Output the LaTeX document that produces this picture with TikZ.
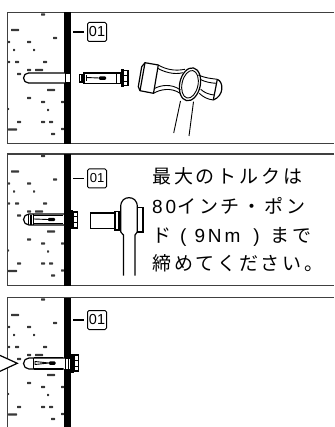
\documentclass[tikz,border=0pt]{standalone}
\usepackage{fontspec}
\setmainfont{Liberation Sans}
\newfontfamily\jpfont[LetterSpace=15]{Noto Sans CJK JP}
\newfontfamily\lafont[LetterSpace=15]{Liberation Sans}
\tikzset{
  frameline/.style={draw=black!75,line width=1.5pt},
  thinl/.style={draw=black,line width=0.9pt},
  medl/.style={draw=black,line width=1.2pt},
  tag/.style={draw=black,rounded corners=1.5pt,line width=1pt,minimum width=19pt,minimum height=19pt,inner sep=0pt,font=\fontsize{14.5}{14.5}\selectfont},
  tick/.style={draw=black,line width=1.1pt,shorten >=3pt},
  say/.style={anchor=base west,inner sep=0pt,font=\fontsize{19}{21}\selectfont},
  speck/.style={fill=black!78,draw=none,rounded corners=0.5pt}
}
\newcommand{\specks}[1]{%
  \foreach \xa/\xb/\yy in {41/45/14.5,11/19/30,53/57/38,8/10/42,27/31/42,13/15/50,33/35/50,8/10/62,15/19/62,43/47/62,17/21/74,27/31/70,35/43/70,47/55/90,27/31/98,41/45/102,61/64/102,47/49/110,8/9/109,17/21/122,41/45/122,49/53/122,8/17/129.5,51/55/134,61/64/129}
    \fill[speck] (\xa,#1+\yy-1.2) rectangle (\xb,#1+\yy+1.2);
}
\begin{document}
\begin{tikzpicture}[x=1pt,y=-1pt]
\useasboundingbox (0,0) rectangle (334,427);
\fill[white] (0,0) rectangle (334,427);
% panel frames
\draw[frameline] (334,12.5) -- (7.5,12.5) -- (7.5,143.5) -- (334,143.5);
\draw[frameline] (334,154) -- (7.5,154) -- (7.5,285.5) -- (334,285.5);
\draw[frameline] (334,297.5) -- (7.5,297.5) -- (7.5,427);
% specks
\specks{0}
\specks{141.5}
\specks{285}
% walls
\fill[black] (63.7,12.5) rectangle (71,144);
\fill[black] (63.7,154) rectangle (71,286);
\fill[black] (63.7,297.5) rectangle (71,427);
% tags
\node[tag] (tagA) at (97,32) {01};
\coordinate (tickA) at (73,32);
\draw[tick] (tickA) -- (tagA.west);
\node[tag] (tagB) at (97,178.5) {\fontsize{13}{13}\selectfont 01};
\coordinate (tickB) at (73,178.5);
\draw[tick] (tickB) -- (tagB.west);
\node[tag] (tagC) at (97,320) {01};
\coordinate (tickC) at (73,320);
\draw[tick] (tickC) -- (tagC.west);

% ---- panel 1: hole and loose anchor
\fill[white] (65,73) -- (28.5,73) arc[start angle=270,end angle=90,radius=5] -- (65,83) -- cycle;
\draw[medl] (65,73) -- (28.5,73) arc[start angle=270,end angle=90,radius=5] -- (65,83);
\draw[thinl,fill=white] (65,73.5) rectangle (70,82.5);
\draw[medl,fill=white] (79.5,74.5) rectangle (83.5,82);
\fill[black] (81,74.5) rectangle (83.5,82);
\draw[medl,fill=white] (84,73) rectangle (120.5,83.3);
\draw[thinl] (86,75) -- (86,81.5);
\draw[thinl] (86,77.5) -- (99,78);
\fill[black,rounded corners=1pt] (99,76.5) rectangle (106,79.8);
\draw[thinl] (116,73) -- (116,83.3);
\fill[black] (120.5,69.3) rectangle (123.5,87.3);
\draw[medl,fill=white] (123.5,70.5) rectangle (128,85.5);
\draw[thinl] (123.5,75) -- (128,75) (123.5,81) -- (128,81);

% hammer
\draw[medl,line join=round] (145,62.7) -- (158.3,65) -- (153.5,93.3) -- (140,90.7) -- cycle;
\draw[medl,line join=round] (145,62.7) -- (141.7,66.7) -- (138.3,86.7) -- (140,90.7);
\draw[thinl] (158.3,65) .. controls (165,69) and (174,71.5) .. (185,69.3);
\draw[thinl] (157.7,68.3) .. controls (164,72) and (174,75) .. (183,72.7);
\draw[thinl] (153.5,93.3) .. controls (160,89.5) and (171,87) .. (180,93.3);
\draw[thinl] (155,88.3) .. controls (160,85.5) and (171,83) .. (180.5,90);
\draw[medl] (190,84.3) ellipse[x radius=10.3,y radius=16.7,rotate=-12];
\draw[thinl] (190,84.3) ellipse[x radius=8,y radius=14,rotate=-12];
\draw[thinl] (198.3,75) .. controls (205,78) and (211,78.5) .. (217.3,79.3);
\draw[thinl] (200,79.3) .. controls (205,82) and (211,83) .. (216,83.3);
\draw[thinl] (199.3,93.3) .. controls (203,97) and (208,99.5) .. (213.3,100);
\draw[thinl] (200.7,89.3) .. controls (204,92.5) and (209,94.5) .. (214,95);
\draw[medl] (217.3,79.3) -- (213.3,100);
\draw[medl] (217.3,79.3) .. controls (224,82) and (224,96) .. (213.3,100);
\draw[thinl] (180.5,101) -- (173.7,133);
\draw[thinl] (193.5,101.7) -- (189,136);

% ---- panel 2: anchor in hole
\fill[white] (65,214) -- (29,214) arc[start angle=270,end angle=90,radius=5.5] -- (65,225) -- cycle;
\draw[medl] (65,214) -- (29,214) arc[start angle=270,end angle=90,radius=5.5] -- (65,225);
\draw[thinl] (28,214) -- (28,225);
\fill[black] (30,214.5) rectangle (31.5,224.5);
\draw[thinl] (33.5,214) -- (33.5,225);
\draw[line width=1.4pt] (34,215.5) -- (63,215.5) (34,223.5) -- (63,223.5);
\draw[thinl] (34,219) -- (48,219.5);
\fill[black,rounded corners=1pt] (48,217.8) rectangle (55,221.2);
\draw[thinl] (67,214) -- (67,225);
\draw[medl] (65,214) -- (65,225);
\fill[black] (71,210) rectangle (73,229);
\draw[medl,fill=white] (73,212) rectangle (77.5,228);
\draw[thinl] (73,216.5) -- (77.5,216.5) (73,222.5) -- (77.5,222.5);

% socket and wrench
\draw[medl,fill=white] (90.7,213) rectangle (115,228.5);
\draw[medl,fill=white] (115,211.7) rectangle (118.5,230);
\fill[black] (118,210.7) rectangle (121,231);
\draw[medl,fill=white] (137.3,207.7) rectangle (143,232);
\draw[medl,fill=white] (120.7,232) -- (120.7,207) .. controls (120.7,200) and (125,197.7) .. (129,197.7)
   .. controls (133,197.7) and (137.3,200) .. (137.3,207) -- (137.3,232);
\draw[medl] (120.7,232) -- (123.5,235) -- (123.5,275.7);
\draw[medl] (137.3,232) -- (135,235) -- (135,275.7);

% text
\node[say] (lineA) at (152,184) {\jpfont 最大のトルクは};
\node[say] (lineB) at (152,213) {\lafont 80\hspace{1pt}\jpfont インチ・ポン};
\node[say] (lineC) at (152,242) {\jpfont ド\hspace{9pt}\lafont (\hspace{8pt}9Nm\hspace{13pt})\hspace{11pt}\jpfont まで};
\node[say] (lineD) at (152,270.5) {\jpfont 締めてください。};

% ---- panel 3: set anchor
\fill[white] (65,358) -- (29,358) arc[start angle=270,end angle=90,radius=5.5] -- (65,369) -- cycle;
\draw[medl] (65,358) -- (29,358) arc[start angle=270,end angle=90,radius=5.5] -- (65,369);
\draw[medl] (33.5,358) -- (33.5,369);
\draw[line width=1.4pt] (34,357.7) -- (63,357.7) (34,369) -- (63,369);
\draw[thinl] (35,361.5) -- (49,363) -- (35,364.5) -- cycle;
\fill[black,rounded corners=1pt] (49,361.4) rectangle (55.5,364.8);
\fill[white] (64,358.5) rectangle (70,368.5);
\draw[medl] (65.5,358) -- (65.5,369) (68.5,358) -- (68.5,369);
\fill[black] (71,354) rectangle (74,373);
\draw[medl,fill=white] (74,355) rectangle (78.5,371);
\draw[thinl] (74,360) -- (78.5,360) (74,366) -- (78.5,366);
% arrow
\draw[medl,fill=white] (-2,354.5) -- (17.3,363.3) -- (-2,372.2);
\end{tikzpicture}
\end{document}
